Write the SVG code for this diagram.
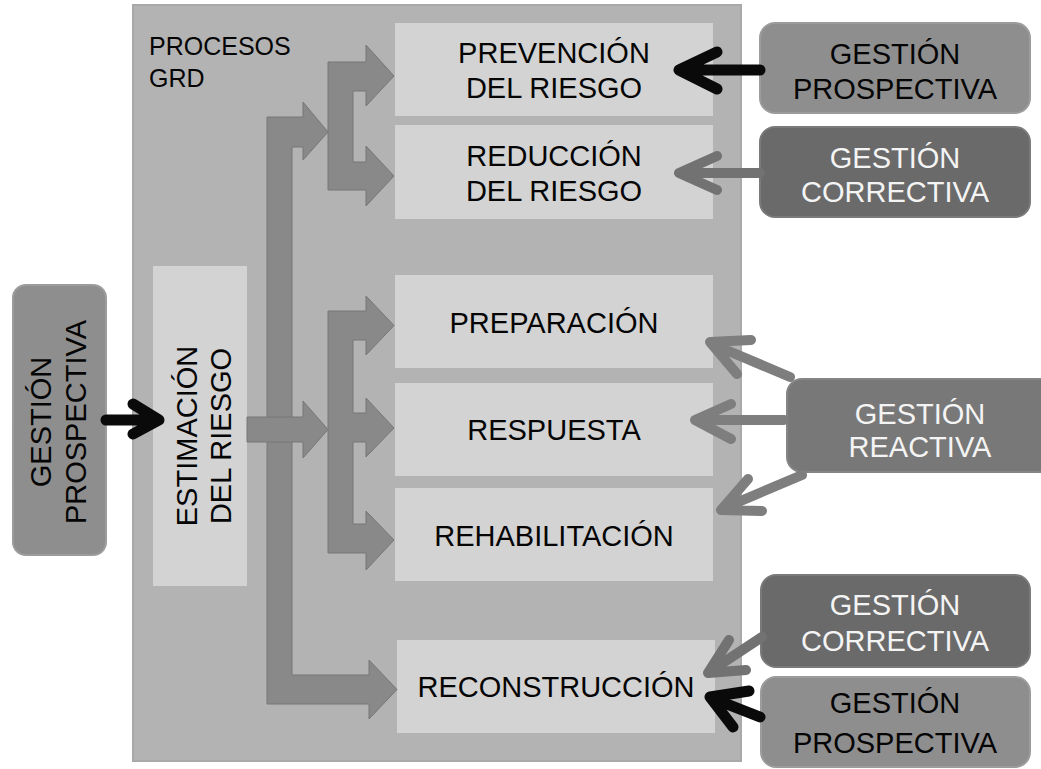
<svg xmlns="http://www.w3.org/2000/svg" width="1041" height="769" viewBox="0 0 1041 769">
<style>
text{font-family:"Liberation Sans",Arial,sans-serif;font-size:29px;text-anchor:middle;fill:#050505}
.small{font-size:25px;text-anchor:start}
.panel{fill:#b3b3b3;stroke:#a9a9a9;stroke-width:2}
.proc{fill:#d3d3d3}
.blk{fill:#898989;stroke:#777;stroke-width:1}
.pros{fill:#8e8e8e;stroke:#9c9c9c;stroke-width:2}
.corr{fill:#6a6a6a;stroke:#7a7a7a;stroke-width:2}
.reac{fill:#787878;stroke:#858585;stroke-width:2}
.w{fill:#f4f4f4}
.cb{fill:none;stroke:#0a0a0a;stroke-width:11;stroke-linecap:round;stroke-linejoin:round}
.cg{fill:none;stroke:#727272;stroke-width:10;stroke-linecap:round;stroke-linejoin:round}
.cr{fill:none;stroke:#7e7e7e;stroke-width:10;stroke-linecap:round;stroke-linejoin:round}
</style>
<rect width="1041" height="769" fill="#ffffff"/>
<g id="panel">
<rect class="panel" x="133" y="5" width="608" height="756"/>
<text class="small" x="149" y="55">PROCESOS</text>
<text class="small" x="149" y="87">GRD</text>
</g>
<g id="prevencion"><rect class="proc" x="395" y="23" width="318" height="93"/><text x="554" y="63">PREVENCIÓN</text><text x="554" y="98">DEL RIESGO</text></g>
<g id="reduccion"><rect class="proc" x="395" y="125" width="318" height="94"/><text x="554" y="166">REDUCCIÓN</text><text x="554" y="201">DEL RIESGO</text></g>
<g id="preparacion"><rect class="proc" x="395" y="275" width="318" height="93"/><text x="554" y="333">PREPARACIÓN</text></g>
<g id="respuesta"><rect class="proc" x="395" y="383" width="318" height="93"/><text x="554" y="440">RESPUESTA</text></g>
<g id="rehabilitacion"><rect class="proc" x="395" y="488" width="318" height="93"/><text x="554" y="546">REHABILITACIÓN</text></g>
<g id="reconstruccion"><rect class="proc" x="397" y="640" width="318" height="93"/><text x="556" y="697">RECONSTRUCCIÓN</text></g>
<g id="estimacion"><rect class="proc" x="153" y="266" width="94" height="320"/>
<text transform="translate(197,436) rotate(-90)">ESTIMACIÓN</text>
<text transform="translate(231,436) rotate(-90)">DEL RIESGO</text></g>
<g id="gp-left"><rect class="pros" x="13" y="285" width="93" height="270" rx="13"/>
<text transform="translate(51,422) rotate(-90)">GESTIÓN</text>
<text transform="translate(86,422) rotate(-90)">PROSPECTIVA</text></g>
<g id="gp-top"><rect class="pros" x="760" y="23" width="270" height="90" rx="15"/><text x="895" y="64">GESTIÓN</text><text x="895" y="99">PROSPECTIVA</text></g>
<g id="gc-top"><rect class="corr" x="760" y="127" width="270" height="90" rx="15"/><text class="w" x="895" y="168">GESTIÓN</text><text class="w" x="895" y="202">CORRECTIVA</text></g>
<g id="gr"><rect class="reac" x="787" y="379" width="270" height="93" rx="15"/><text class="w" x="920" y="424">GESTIÓN</text><text class="w" x="920" y="457">REACTIVA</text></g>
<g id="gc-bottom"><rect class="corr" x="761" y="575" width="269" height="92" rx="15"/><text class="w" x="895" y="615">GESTIÓN</text><text class="w" x="895" y="651">CORRECTIVA</text></g>
<g id="gp-bottom"><rect class="pros" x="761" y="677" width="269" height="90" rx="15"/><text x="895" y="713">GESTIÓN</text><text x="895" y="753">PROSPECTIVA</text></g>
<g id="connectors">
<polygon class="blk" points="267,117 303,117 303,102 328,132 303,160 303,147 292,147 292,675 369,675 369,660 397,689.5 369,719 369,704 267,704"/>
<polygon class="blk" points="247,417 303,417 303,401 328,429.5 303,458 303,442 247,442"/>
<polygon class="blk" points="328,62 366,62 366,45 394,76 366,106 366,91 353,91 353,162 366,162 366,146 394,176 366,206 366,190 328,190"/>
<polygon class="blk" points="328,311 366,311 366,296 394,325.5 366,355 366,340 353,340 353,413 366,413 366,398 394,428 366,457 366,442 353,442 353,524 366,524 366,511 394,540 366,570 366,553 328,553"/>
<path class="cb" d="M760,70 H682 M717,52 L679,70 L717,89"/>
<path class="cg" d="M760,173 H682 M717,156 L679,173 L717,190"/>
<path class="cr" d="M790,377 L712,344 M751,340 L710,342 L737,374"/>
<path class="cr" d="M784,420 H698 M731,404 L695,420 L731,439"/>
<path class="cr" d="M802,475 L724,508 M748,479 L721,510 L762,511"/>
<path class="cg" d="M762,637 L712,670 M729,640 L708,673 L746,670"/>
<path class="cb" d="M760,717 L714,699 M749,691 L710,697 L733,727"/>
<path class="cb" d="M106,420 H156 M133,404 L159,420 L133,434"/>
</g>
</svg>
